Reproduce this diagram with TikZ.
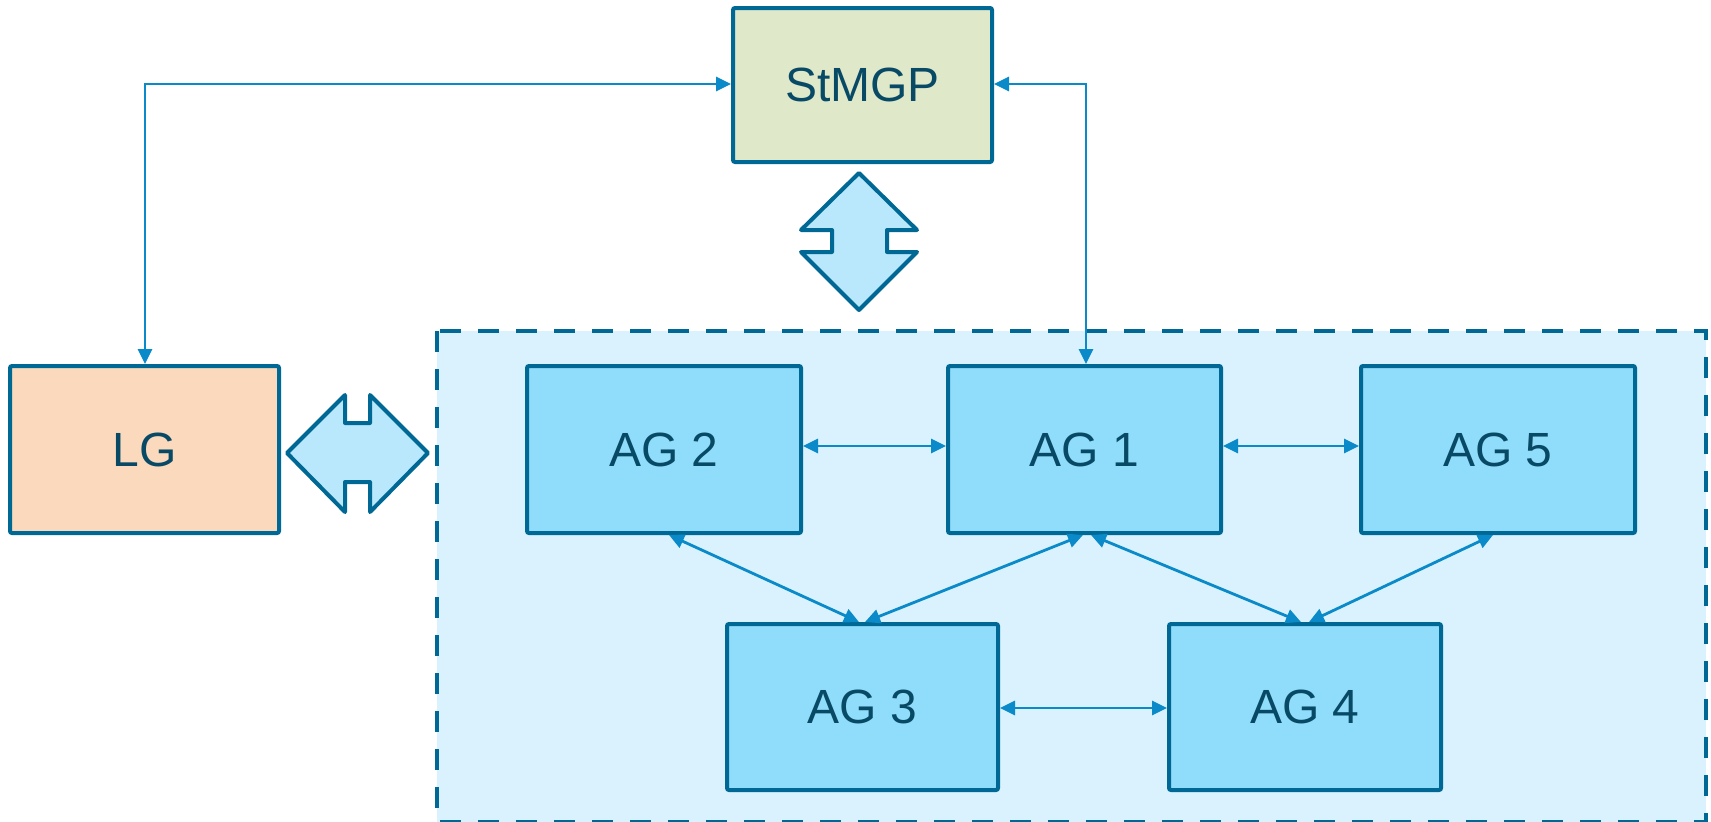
\documentclass[tikz,border=0pt]{standalone}
\usepackage{fontspec}
\setmainfont{Liberation Sans}
\usetikzlibrary{arrows.meta}
\definecolor{edgeblue}{RGB}{0,104,148}
\definecolor{linkblue}{RGB}{10,138,200}
\definecolor{agfill}{RGB}{143,221,251}
\definecolor{zonefill}{RGB}{217,242,253}
\definecolor{lgfill}{RGB}{251,217,188}
\definecolor{stfill}{RGB}{223,232,201}
\definecolor{bigarrow}{RGB}{185,232,252}
\definecolor{txt}{RGB}{8,74,102}
\tikzset{
  unit/.style={draw=edgeblue, line width=4pt, rounded corners=2pt, inner sep=0pt,
    font=\fontsize{48}{56}\selectfont, text=txt},
  agbox/.style={unit, fill=agfill},
  link/.style={draw=linkblue, line width=2.8pt, {Triangle[length=15pt,width=14pt]}-{Triangle[length=15pt,width=14pt]}},
  fatarrow/.style={draw=edgeblue, line width=4pt, fill=bigarrow, line join=round}
}
\begin{document}
\begin{tikzpicture}[x=1pt,y=-1pt]
\useasboundingbox (0,0) rectangle (1711,822);
% dashed zone holding the AG units
\draw[draw=edgeblue, fill=zonefill, line width=4pt, dash pattern=on 21pt off 17pt]
  (437,331) rectangle (1706,822);
% units
\node[unit, fill=stfill, minimum width=259pt, minimum height=154pt] (st) at (862.5,85) {StMGP};
\node[unit, fill=lgfill, minimum width=269pt, minimum height=167pt] (lg) at (144.5,449.5) {LG};
\node[agbox, minimum width=274pt, minimum height=167pt] (ag2) at (664,449.5) {AG 2};
\node[agbox, minimum width=273pt, minimum height=167pt] (ag1) at (1084.5,449.5) {AG 1};
\node[agbox, minimum width=274pt, minimum height=167pt] (ag5) at (1498,449.5) {AG 5};
\node[agbox, minimum width=271pt, minimum height=166pt] (ag3) at (862.5,707) {AG 3};
\node[agbox, minimum width=272pt, minimum height=166pt] (ag4) at (1305,707) {AG 4};
% wide double arrows
\draw[fatarrow] (859,173) -- (801,230) -- (832,230) -- (832,252) -- (801,252) -- (859,310)
  -- (917,252) -- (887,252) -- (887,230) -- (917,230) -- cycle;
\draw[fatarrow] (287,453) -- (345,395) -- (345,423) -- (370,423) -- (370,395) -- (428,453)
  -- (370,512) -- (370,482) -- (345,482) -- (345,512) -- cycle;
% feedback lines of StMGP
\coordinate (lgturn) at (145,84);
\coordinate (agturn) at (1086,84);
\draw[link] (st.west |- lgturn) -- (lgturn) -- (lg.north -| lgturn);
\draw[link] (st.east |- agturn) -- (agturn) -- (ag1.north -| agturn);
% links between the AG units
\draw[link] (ag2.east |- 0,446) -- (ag1.west |- 0,446);
\draw[link] (ag1.east |- 0,446) -- (ag5.west |- 0,446);
\draw[link] (ag3.east |- 0,708) -- (ag4.west |- 0,708);
\draw[link] (ag2.south -| 669,0) -- (ag3.north -| 859,0);
\draw[link] (ag1.south -| 1083,0) -- (ag3.north -| 865,0);
\draw[link] (ag1.south -| 1091,0) -- (ag4.north -| 1301,0);
\draw[link] (ag5.south -| 1493,0) -- (ag4.north -| 1309,0);
\end{tikzpicture}
\end{document}
